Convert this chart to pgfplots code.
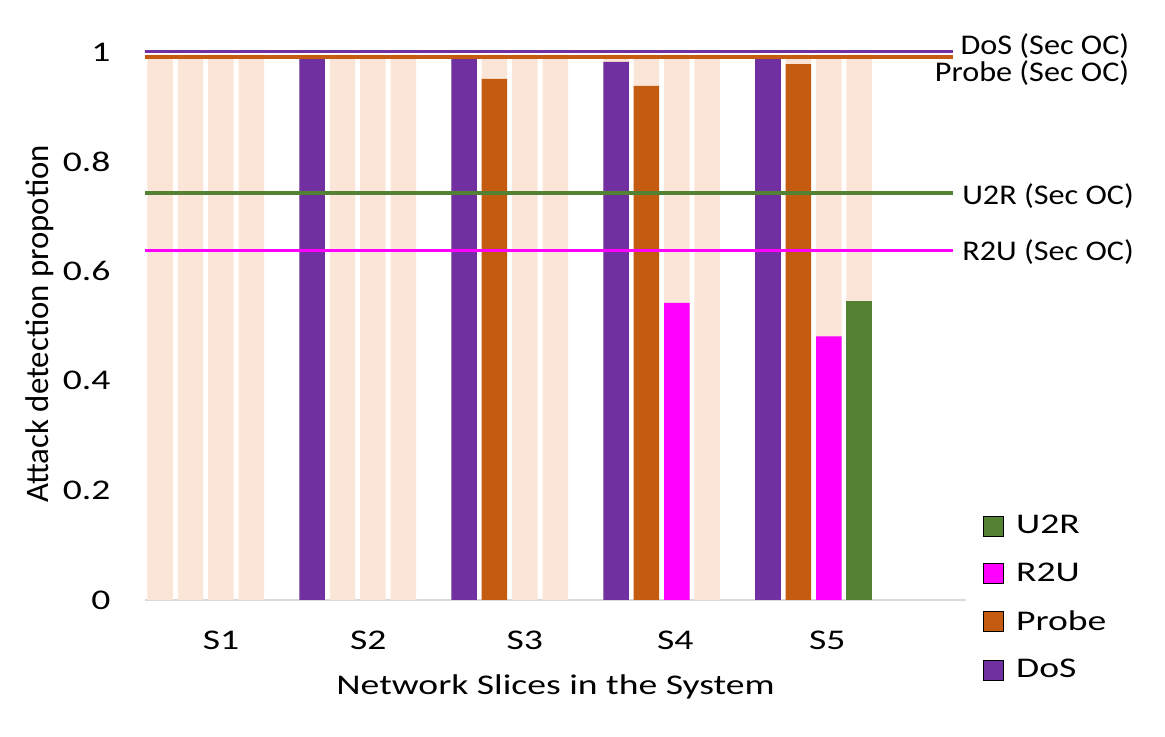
\documentclass[border=0pt]{standalone}
\usepackage{pgfplots}
\pgfplotsset{compat=1.18}
\usepackage{fontspec}
\setmainfont{Carlito}[FakeStretch=1.32]
\newfontfamily\linefont{Carlito}[FakeStretch=1.13]
\newfontfamily\ylabfont{Carlito}
\definecolor{dos}{HTML}{7030A0}
\definecolor{probe}{HTML}{C55A11}
\definecolor{rtu}{HTML}{FF00FF}
\definecolor{utr}{HTML}{548235}
\definecolor{peach}{HTML}{FBE5D6}
\definecolor{axgray}{HTML}{D9D9D9}
\begin{document}
\begin{tikzpicture}
\begin{axis}[
  width=410.5pt, height=274pt, scale only axis,
  xmin=-0.1, xmax=5.303, ymin=0, ymax=1,
  clip=false,
  axis x line*=bottom, axis y line*=left,
  x axis line style={draw=axgray, line width=0.8pt, -},
  y axis line style={draw=none},
  major tick length=0pt,
  ybar, bar width=0.168, bar shift=0pt,
  xtick={0.40,1.37,2.40,3.39,4.39},
  xticklabels={S1,S2,S3,S4,S5},
  ytick={0,0.2,0.4,0.6,0.8,1},
  yticklabels={0,0.2,0.4,0.6,0.8,1},
  ticklabel style={font=\fontsize{14.25}{17}\selectfont},
  xticklabel style={yshift=-11.75pt},
  yticklabel style={xshift=-13.75pt},
  xlabel={Network Slices in the System},
  xlabel style={at={(axis description cs:0.5,-0.123)}, anchor=north, font=\fontsize{14.25}{17}\selectfont},
  ylabel={Attack detection propotion},
  ylabel style={at={(axis description cs:-0.128,0.504)}, anchor=center, rotate=0, font=\ylabfont\fontsize{16.4}{19}\selectfont},
  legend style={at={(axis description cs:1.0207,0.155)}, anchor=north west, draw=none, fill=none, inner sep=0pt,
    font=\fontsize{14.25}{17}\selectfont, row sep=13pt, column sep=6pt,
    nodes={inner sep=0pt, anchor=west}},
  legend cell align=left,
  legend image code/.code={\fill[#1] (0pt,-5pt) rectangle (10pt,5pt);},
]
% background bars
\addplot[fill=peach, draw=none, forget plot] coordinates {
 (0,0.995) (0.2,0.995) (0.4,0.995) (0.6,0.995)
 (1,0.995) (1.2,0.995) (1.4,0.995) (1.6,0.995)
 (2,0.995) (2.2,0.995) (2.4,0.995) (2.6,0.995)
 (3,0.995) (3.2,0.995) (3.4,0.995) (3.6,0.995)
 (4,0.995) (4.2,0.995) (4.4,0.995) (4.6,0.995)};
\addplot[fill=dos, draw=none, forget plot] coordinates {(1,0.99) (2,0.99) (3,0.982) (4,0.99)};
\addplot[fill=probe, draw=none, forget plot] coordinates {(2.2,0.951) (3.2,0.938) (4.2,0.978)};
\addplot[fill=rtu, draw=none, forget plot] coordinates {(3.4,0.542) (4.4,0.481)};
\addplot[fill=utr, draw=none, forget plot] coordinates {(4.6,0.546)};
% threshold lines
\addplot[sharp plot, draw=dos, line width=1.5pt, forget plot] coordinates {(-0.1,1.0) (5.22,1.0)};
\addplot[sharp plot, draw=probe, line width=2pt, forget plot] coordinates {(-0.1,0.99) (5.22,0.99)};
\addplot[sharp plot, draw=utr, line width=2pt, forget plot] coordinates {(-0.1,0.742) (5.22,0.742)};
\addplot[sharp plot, draw=rtu, line width=1.4pt, forget plot] coordinates {(-0.1,0.638) (5.22,0.638)};
\node[anchor=east, inner sep=0pt, font=\linefont\fontsize{14.25}{17}\selectfont] at (axis cs:6.38,1.011) {DoS (Sec OC)};
\node[anchor=east, inner sep=0pt, font=\linefont\fontsize{14.25}{17}\selectfont] at (axis cs:6.38,0.962) {Probe (Sec OC)};
\node[anchor=west, inner sep=0pt, font=\linefont\fontsize{14.25}{17}\selectfont] at (axis cs:5.276,0.737) {U2R (Sec OC)};
\node[anchor=west, inner sep=0pt, font=\linefont\fontsize{14.25}{17}\selectfont] at (axis cs:5.276,0.635) {R2U (Sec OC)};
% legend
\addlegendimage{fill=utr}
\addlegendentry{U2R}
\addlegendimage{fill=rtu}
\addlegendentry{R2U}
\addlegendimage{fill=probe}
\addlegendentry{Probe}
\addlegendimage{fill=dos}
\addlegendentry{DoS}
\path[use as bounding box] (axis description cs:-0.1766,-0.25) rectangle (axis description cs:1.2424,1.0949);
\end{axis}
\end{tikzpicture}
\end{document}
